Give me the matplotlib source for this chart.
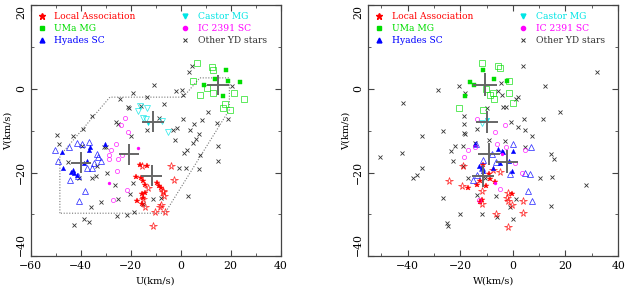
# U-V and W-V diagrams of young disk moving groups
import matplotlib
matplotlib.use("Agg")
import matplotlib.pyplot as plt
from matplotlib.lines import Line2D
from matplotlib.ticker import MultipleLocator

plt.rcParams["font.family"] = "DejaVu Serif"
plt.rcParams["font.size"] = 7

# ---------------- left panel (U, V) ----------------
la_fill_u = [-16.3, -13.4, -18.0, -16.0, -15.0, -14.3, -9.6, -8.7, -7.9, -15.6, -14.3, -15.0, -17.6, -15.6]
la_fill_v = [-18.3, -18.4, -21.0, -21.4, -22.0, -23.0, -22.5, -23.2, -23.8, -25.2, -24.8, -26.0, -26.8, -27.5]
la_open_u = [-4.0, -2.7, -7.2, -6.7, -15.0, -14.3, -10.3, -6.3, -11.0, -8.3, -13.0, -15.6, -7.0, -7.9]
la_open_v = [-18.4, -21.8, -24.6, -25.6, -26.4, -28.3, -29.4, -29.5, -32.7, -28.3, -23.6, -18.4, -24.4, -27.8]

uma_fill_u = [18.1, 13.7, 19.0, 9.3, 23.7, 16.8]
uma_fill_v = [4.4, 2.4, 1.8, 1.0, 1.6, -1.8]
uma_open_u = [6.4, 12.4, 13.0, 4.8, 10.4, 7.7, 13.0, 21.3, 25.3, 17.7, 16.8, 19.7]
uma_open_v = [6.2, 5.2, 4.5, 1.8, 0.2, -1.6, -1.0, -1.0, -2.5, -3.6, -4.5, -5.1]

hy_fill_u = [-47.6, -36.7, -36.3, -30.3, -37.5, -38.6, -47.0, -43.8, -42.6, -43.2, -41.5]
hy_fill_v = [-15.2, -14.5, -13.8, -13.3, -17.3, -17.7, -19.0, -19.9, -20.2, -19.4, -20.5]
hy_open_u = [-50.3, -44.7, -41.4, -39.3, -36.5, -48.9, -33.4, -33.0, -31.9, -37.4, -35.3, -40.9, -38.2, -40.7, -44.2, -34.5]
hy_open_v = [-14.6, -14.0, -13.0, -13.2, -12.7, -17.3, -15.5, -16.3, -17.3, -18.8, -18.9, -20.8, -24.4, -26.9, -21.8, -17.8]

cas_fill_u = [-13.0]
cas_fill_v = [-8.2]
cas_open_u = [-16.3, -13.6, -17.0, -15.0, -13.9, -7.6, -4.9]
cas_open_v = [-4.1, -4.5, -5.3, -6.9, -7.1, -7.7, -10.3]

ic_fill_u = [-17.0, -28.7]
ic_fill_v = [-14.2, -22.5]
ic_open_u = [-22.3, -24.0, -21.0, -25.9, -27.9, -28.6, -28.6, -23.6, -25.0, -25.4, -21.4, -27.0]
ic_open_v = [-6.9, -8.6, -10.2, -13.3, -14.6, -15.9, -16.7, -15.9, -16.8, -19.6, -24.1, -26.5]

oth_u = [-10.8, 4.5, 3.2, -1.9, 0.4, 0.9, 20.4, -19.0, -13.6, -24.3, -6.6, -21.0, -20.7, -16.0,
         -35.6, -25.9, -24.9, -39.2, -20.0, -13.6, -8.8, 0.8, 5.3, 8.4, 11.1, 19.1, 14.7, -1.6,
         -2.9, 3.7, 7.5, 6.1, 5.0, -2.3, 14.8, -49.4, -48.8, -43.2, -39.6, -30.5, -45.0, -29.9,
         -33.6, -35.6, -34.0, -40.7, -29.6, -26.3, -31.8, -36.0, -25.0, -25.6, -21.4, -18.7,
         -20.3, -19.0, -38.7, -36.7, -42.7, -11.0, -7.9, -15.2, -0.7, 2.1, 7.3, 3.1, 1.4, 2.5,
         7.7, 15.0]
oth_v = [1.0, 5.5, 3.9, -0.6, -0.4, -1.4, 0.6, -1.1, -2.0, -2.4, -3.6, -4.3, -4.5, -4.2,
         -6.5, -8.0, -8.3, -9.5, -11.3, -9.9, -7.0, -7.1, -8.5, -7.5, -5.6, -7.1, -8.1, -9.3,
         -9.9, -9.9, -10.9, -12.1, -12.9, -12.3, -13.7, -11.1, -13.3, -11.3, -13.6, -13.9, -17.5, -13.8,
         -18.4, -21.4, -20.9, -21.4, -20.2, -22.9, -27.0, -28.3, -26.4, -30.3, -30.2, -29.4,
         -25.2, -22.4, -31.0, -31.9, -32.5, -26.2, -26.0, -27.5, -19.0, -19.0, -19.2, -25.6, -15.4, -14.6,
         -15.9, -17.2]

# group centres (LA, UMa, Hyades, Castor, IC 2391) with cross half-sizes
cen_u = [-11.6, 14.8, -39.9, -11.1, -20.5]
cen_uv = [-20.8, 0.9, -17.6, -7.9, -15.6]
err_u = [4.2, 4.4, 4.0, 4.3, 4.0]
err_uv = [2.5, 2.5, 2.5, 2.5, 2.5]

# selection box in the U-V plane
box_u = [-48.3, -48.3, -28.3, 1.0, 7.7, 19.5, 19.5, -6.3, -48.3]
box_v = [-29.7, -16.0, -2.0, -2.0, 2.6, 2.6, -5.0, -29.7, -29.7]

# ---------------- right panel (W, V) ----------------
la_fill_w = [-11.2, -8.9, -12.5, -13.7, -16.9, -6.7, -10.2, -12.5, -0.4, -8.6, -11.6]
la_fill_wv = [-18.3, -20.4, -22.0, -23.0, -23.6, -22.2, -23.2, -27.1, -25.2, -21.5, -26.5]
la_open_w = [-24.2, -19.4, -18.8, -11.8, -4.8, -2.0, -1.7, -0.4, 3.8, -6.5, -1.7, -11.6, 4.0, -2.3, -7.7]
la_open_wv = [-22.0, -23.2, -18.4, -24.4, -19.8, -24.8, -26.8, -27.8, -26.8, -29.8, -32.9, -27.5, -29.7, -26.0, -19.5]

uma_fill_w = [-11.4, -16.3, -14.6, -7.1, -2.3, -18.1]
uma_fill_wv = [4.4, 1.6, 1.0, 2.4, 1.8, -1.8]
uma_open_w = [-11.6, -5.5, -4.8, -1.3, -10.2, -7.6, -7.1, -8.6, -1.3, -20.3, -11.2, 0.2]
uma_open_wv = [6.2, 5.4, 5.0, 1.8, 0.0, -1.0, -2.4, -1.6, -0.9, -4.5, -5.1, -3.5]

hy_fill_w = [-5.5, -4.3, -3.6, 0.0, -4.8, -1.3, -12.8, -11.8, -11.2, -0.4, -14.4, -7.6]
hy_fill_wv = [-14.3, -14.8, -15.2, -14.9, -17.6, -17.2, -18.4, -19.0, -19.6, -19.6, -13.3, -19.0]
hy_open_w = [0.0, 7.0, -14.0, -8.0, -11.8, -6.3, -1.0, 4.7, 6.6, -15.2, 5.6, 7.2, -11.2, -13.5]
hy_open_wv = [-13.3, -14.0, -13.3, -15.6, -19.0, -17.5, -20.4, -20.0, -20.4, -21.8, -24.4, -26.8, -17.1, -20.5]

cas_fill_w = [-9.9]
cas_fill_wv = [-7.5]
cas_open_w = [-11.6]
cas_open_wv = [-8.1]

ic_fill_w = [-6.7, -4.2]
ic_fill_wv = [-22.4, -15.6]
ic_open_w = [-13.5, -2.9, -6.7, -16.9, -18.4, -6.1, -2.6, 4.7, 0.9, 3.4, -4.8, -12.7, -14.4]
ic_open_wv = [-7.1, -8.7, -10.2, -14.6, -16.4, -13.3, -14.0, -14.6, -17.6, -20.0, -24.0, -26.5, -13.8]

oth_w = [4.0, 32.0, 12.3, -4.6, -5.5, -4.2, 1.3, 2.1, -3.8, -2.7, 18.0, -9.9, 4.4, 11.4,
         -0.8, 2.1, 4.7, 7.2, -28.3, -41.7, -20.5, -18.2, -18.4, -18.6, -13.5, -26.7, -34.7,
         -18.2, -42.3, -22.0, -18.8, -23.6, -22.6, -18.8, -34.7, -36.6, -38.1, -26.4, -20.0,
         -25.1, -24.6, -11.8, -6.4, -6.1, -1.0, 0.2, -18.6, -10.6, -2.9, 4.7, 14.5, 15.8, 10.4,
         14.9, 27.9, 1.3, 14.6, -50.6, -9.0, -14.4, -13.7, -17.0]
oth_wv = [5.5, 4.0, 0.6, 1.3, -0.6, -1.4, -2.4, -2.0, -4.3, -4.3, -5.5, -4.5, -7.1, -7.3,
          -7.9, -9.1, -9.9, -11.3, -0.4, -3.5, 0.6, -1.1, -6.5, -8.5, -9.5, -10.1, -11.3,
          -10.9, -15.4, -13.7, -13.7, -14.9, -17.2, -18.4, -19.0, -20.6, -21.4, -26.0, -30.0,
          -32.1, -32.7, -30.0, -25.6, -30.5, -28.3, -31.1, -10.6, -21.4, -12.5, -13.8, -15.6, -16.8, -21.4,
          -21.0, -23.0, -26.2, -28.0, -16.3, -12.3, -13.0, -25.3, -21.2]

cen_w = [-11.2, -10.6, -2.3, -9.7, -8.9]
cen_wv = [-20.8, 1.0, -17.4, -7.9, -15.6]
err_w = [4.2, 4.4, 4.2, 4.2, 4.2]
err_wv = [2.7, 2.7, 2.7, 2.7, 2.7]

red, green, blue, cyan, mag = "#ff0000", "#00dd00", "#0000ff", "#00e5e5", "#ff00ff"
cross_col = "#666666"


def draw_panel(ax, groups, oth_x, oth_y, cx, cy, ex, ey):
    ax.plot(oth_x, oth_y, "x", color="#333333", ms=3, mew=0.6, ls="none")
    for col, mk, ms, fx, fy, ox, oy in groups:
        ax.plot(ox, oy, mk, color=col, mfc="none", ms=ms, mew=0.55, ls="none", alpha=0.8)
        ax.plot(fx, fy, mk, color=col, ms=ms * 0.7, mew=0.3, ls="none")
    ax.errorbar(cx, cy, xerr=ex, yerr=ey, fmt="none", ecolor=cross_col,
                elinewidth=1.4, capsize=0)
    ax.set_ylim(-40, 20)
    ax.xaxis.set_major_locator(MultipleLocator(20))
    ax.xaxis.set_minor_locator(MultipleLocator(10))
    ax.yaxis.set_major_locator(MultipleLocator(20))
    ax.yaxis.set_minor_locator(MultipleLocator(10))
    ax.tick_params(which="both", direction="in", top=True, right=True, color="#444444",
                   labelsize=7.8)
    ax.tick_params(which="major", length=4)
    ax.tick_params(which="minor", length=2)
    for s in ax.spines.values():
        s.set_color("#444444")
        s.set_linewidth(0.9)
    ax.set_ylabel("V(km/s)", labelpad=2)
    handles = [
        Line2D([], [], marker="*", color=red, ls="none", ms=5),
        Line2D([], [], marker="s", color=green, ls="none", ms=3),
        Line2D([], [], marker="^", color=blue, ls="none", ms=3.5),
        Line2D([], [], marker="v", color=cyan, ls="none", ms=3.5),
        Line2D([], [], marker="o", color=mag, ls="none", ms=3),
        Line2D([], [], marker="x", color="#333333", ls="none", ms=3.5, mew=0.7),
    ]
    labels = ["Local Association", "UMa MG", "Hyades SC", "Castor MG", "IC 2391 SC", "Other YD stars"]
    ax.legend(handles, labels, loc="upper left", ncol=2, frameon=False,
              labelcolor="linecolor", handlelength=0.8, handletextpad=1.0,
              columnspacing=5.0, labelspacing=0.3, borderaxespad=0.4, fontsize=6.6)


def rotate_yticks(ax):
    ax.figure.canvas.draw()
    for lab in ax.get_yticklabels():
        lab.set_rotation(90)
        lab.set_va("center")
        if lab.get_text() in ("\u221240", "-40"):
            lab.set_va("bottom")
        if lab.get_text() == "20":
            lab.set_va("top")


fig = plt.figure(figsize=(6.25, 2.92), dpi=100)
ax1 = fig.add_axes([0.049, 0.122, 0.40, 0.861])
ax2 = fig.add_axes([0.589, 0.122, 0.40, 0.861])

ax1.plot(box_u, box_v, ls=(0, (1, 1.5)), color="#777777", lw=0.8)
draw_panel(ax1, [
    (red, "*", 5.5, la_fill_u, la_fill_v, la_open_u, la_open_v),
    (green, "s", 4, uma_fill_u, uma_fill_v, uma_open_u, uma_open_v),
    (blue, "^", 4.5, hy_fill_u, hy_fill_v, hy_open_u, hy_open_v),
    (cyan, "v", 4.5, cas_fill_u, cas_fill_v, cas_open_u, cas_open_v),
    (mag, "o", 3, ic_fill_u, ic_fill_v, ic_open_u, ic_open_v),
], oth_u, oth_v, cen_u, cen_uv, err_u, err_uv)
ax1.set_xlim(-60, 40)
ax1.set_xlabel("U(km/s)", labelpad=4)

draw_panel(ax2, [
    (red, "*", 5.5, la_fill_w, la_fill_wv, la_open_w, la_open_wv),
    (green, "s", 4, uma_fill_w, uma_fill_wv, uma_open_w, uma_open_wv),
    (blue, "^", 4.5, hy_fill_w, hy_fill_wv, hy_open_w, hy_open_wv),
    (cyan, "v", 4.5, cas_fill_w, cas_fill_wv, cas_open_w, cas_open_wv),
    (mag, "o", 3, ic_fill_w, ic_fill_wv, ic_open_w, ic_open_wv),
], oth_w, oth_wv, cen_w, cen_wv, err_w, err_wv)
ax2.set_xlim(-55, 40)
ax2.set_xlabel("W(km/s)", labelpad=4)

rotate_yticks(ax1)
rotate_yticks(ax2)

fig.savefig("out.png", dpi=100)
